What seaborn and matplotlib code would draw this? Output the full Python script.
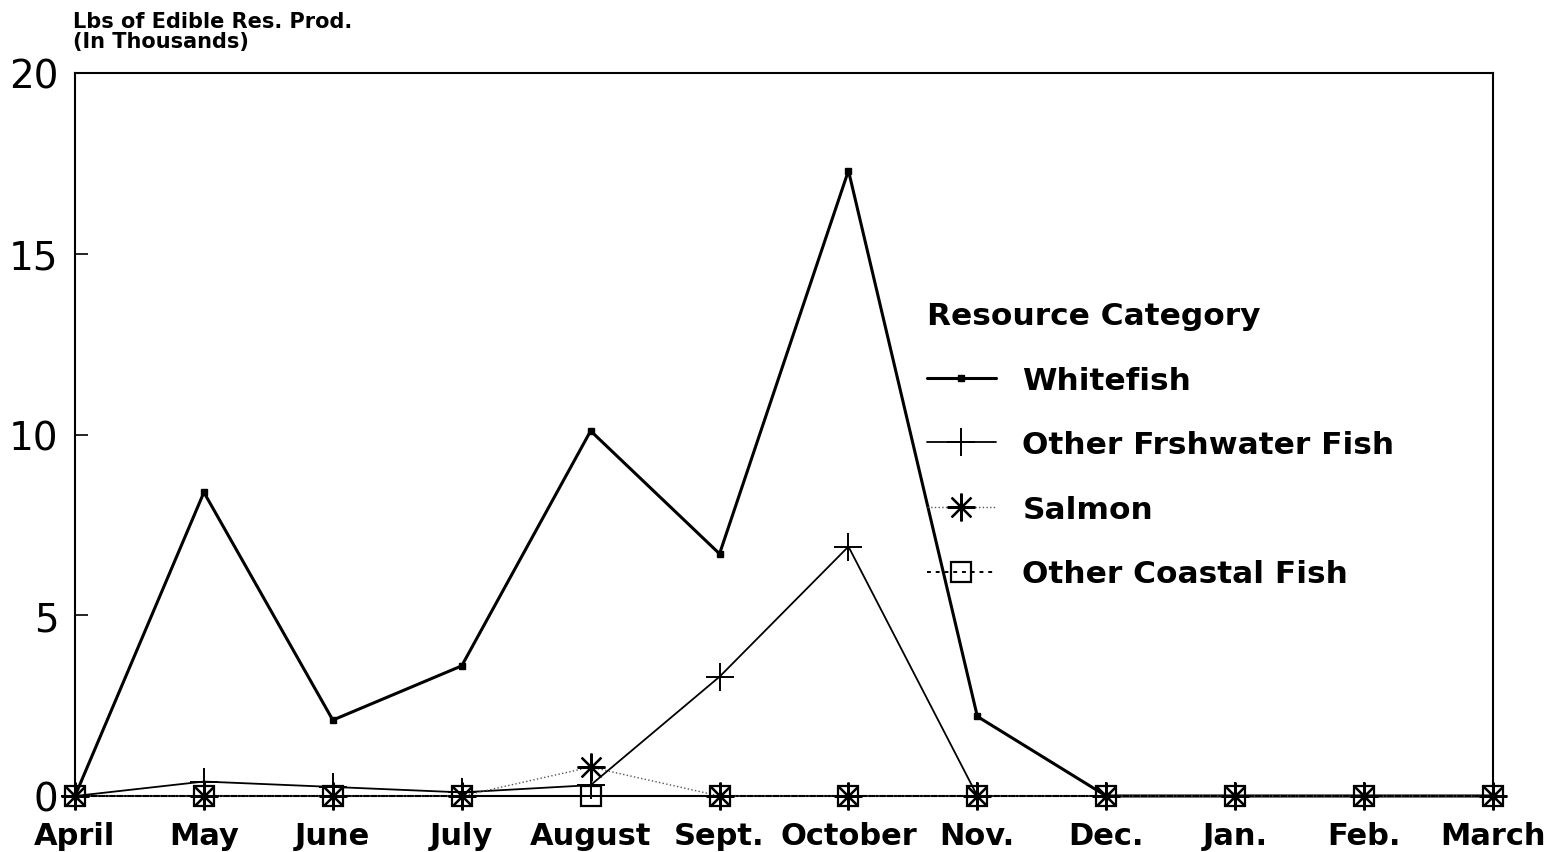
import numpy as np
import pandas as pd
import matplotlib
matplotlib.use("Agg")
import matplotlib.pyplot as plt
import seaborn as sns

months = ["April", "May", "June", "July", "August", "Sept.", "October",
          "Nov.", "Dec.", "Jan.", "Feb.", "March"]
whitefish = [0.0, 8.4, 2.1, 3.6, 10.1, 6.7, 17.3, 2.2, 0.0, 0.0, 0.0, 0.0]
freshwater = [0.0, 0.4, 0.25, 0.1, 0.3, 3.3, 6.9, 0.0, 0.0, 0.0, 0.0, 0.0]
salmon = [0.0, 0.0, 0.0, 0.0, 0.8, 0.0, 0.0, 0.0, 0.0, 0.0, 0.0, 0.0]
coastal = [0.0, 0.0, 0.0, 0.0, 0.0, 0.0, 0.0, 0.0, 0.0, 0.0, 0.0, 0.0]
series_names = ["Whitefish", "Other Frshwater Fish", "Salmon", "Other Coastal Fish"]
yticks = [0, 5, 10, 15, 20]

sns.set_theme(style="white")
plt.rcParams["font.family"] = ["DejaVu Sans"]
plt.rcParams["text.color"] = "black"
plt.rcParams["xtick.color"] = "black"
plt.rcParams["ytick.color"] = "black"

fig = plt.figure(figsize=(15.65, 8.53), dpi=100)
ax = fig.add_axes([75 / 1565, 1 - 797 / 853, 1418 / 1565, 723 / 853])

x = np.arange(len(months))
styles = {
    "Whitefish": dict(color="black", lw=2.2, ls="-", marker="s", ms=4,
                      mfc="black", mec="black", mew=1.0),
    "Other Frshwater Fish": dict(color="black", lw=1.3, ls="-", marker="+",
                                 ms=20, mec="black", mew=1.4),
    "Salmon": dict(color="#555555", lw=1.0, ls=":", marker=(8, 2, 0),
                   ms=20, mec="black", mew=1.6),
    "Other Coastal Fish": dict(color="black", lw=1.4, ls=(0, (2, 2.5)), marker="s",
                               ms=15, mfc="none", mec="black", mew=1.6),
}
values = {"Whitefish": whitefish, "Other Frshwater Fish": freshwater,
          "Salmon": salmon, "Other Coastal Fish": coastal}

handles = []
for name in series_names:
    df = pd.DataFrame({"month": x, "lbs": values[name]})
    st = dict(styles[name])
    sns.lineplot(data=df, x="month", y="lbs", ax=ax, color=st.pop("color"),
                 linewidth=st.pop("lw"), linestyle=st.pop("ls"),
                 clip_on=False, zorder=3, **st)
    handles.append(ax.get_lines()[-1])

ax.set_xlim(0, len(months) - 1)
ax.set_ylim(0, 20)
ax.set_xticks(x)
ax.set_xticklabels(months, fontsize=22, fontweight="bold")
ax.set_yticks(yticks)
ax.set_yticklabels([str(v) for v in yticks], fontsize=28)
ax.tick_params(axis="y", direction="in", length=9, width=1.2, pad=12, left=True)
ax.tick_params(axis="x", length=0, pad=18)
ax.set_xlabel("")
ax.set_ylabel("")
for s in ax.spines.values():
    s.set_color("black")
    s.set_linewidth(1.5)

fig.text(73 / 1565, 1 - 12 / 853, "Lbs of Edible Res. Prod.\n(In Thousands)",
         fontsize=15, fontweight="bold", va="top", ha="left", linespacing=1.0)

leg = ax.legend(handles, series_names, title="Resource Category",
                loc="upper left", bbox_to_anchor=((927 - 75) / 1418, (797 - 302) / 723),
                frameon=False, handlelength=2.2,
                handletextpad=0.85, labelspacing=1.14, borderpad=0, borderaxespad=0,
                alignment="left", prop={"weight": "bold", "size": 22.5})
leg.get_title().set_fontweight("bold")
leg.get_title().set_fontsize(22.5)
for h in leg.legend_handles:
    h.set_clip_on(False)

fig.savefig("out.png", dpi=100, facecolor="white")
